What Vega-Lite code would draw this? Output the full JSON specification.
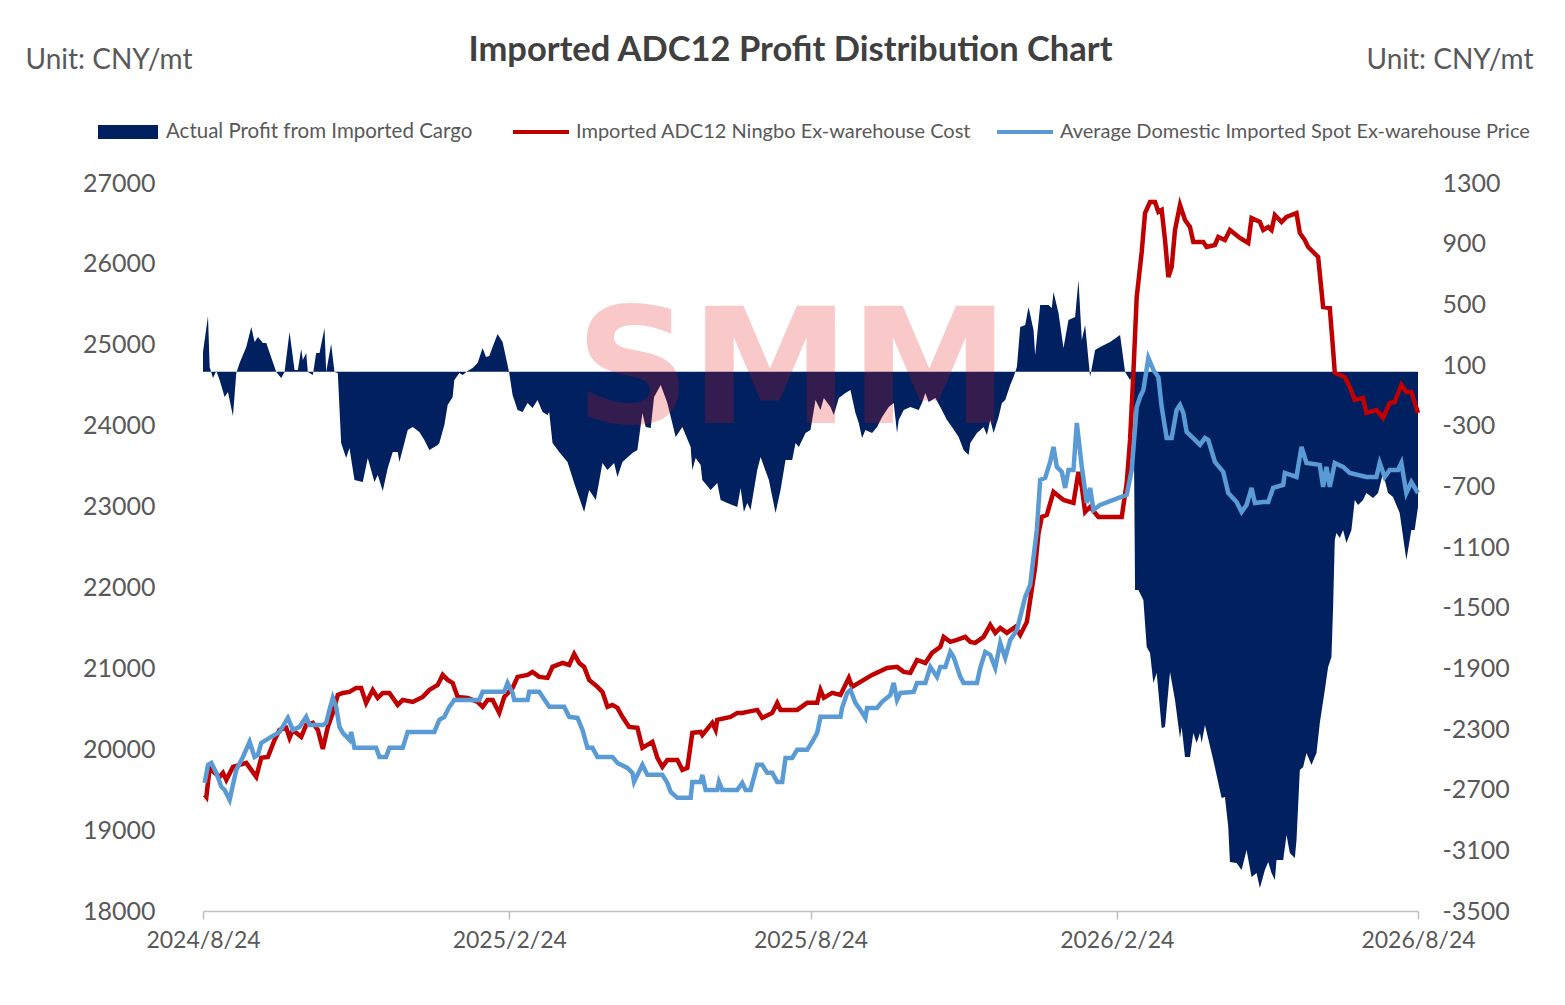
{
  "$schema": "https://vega.github.io/schema/vega-lite/v6.json",
  "description": "Imported ADC12 Profit Distribution Chart",
  "width": 1215,
  "height": 728,
  "autosize": "none",
  "padding": {"left": 203, "top": 183, "right": 147, "bottom": 94},
  "background": "white",
  "config": {"view": {"stroke": null}, "font": "Lato"},
  "title": {
    "text": "Imported ADC12 Profit Distribution Chart",
    "font": "Lato",
    "fontSize": 34.5,
    "fontWeight": "bold",
    "color": "#404040",
    "anchor": "middle",
    "frame": "group",
    "dx": -20,
    "dy": 42,
    "offset": 20
  },
  "datasets": {
    "profit": [
      {"date": "2024-08-24", "v": 186}, {"date": "2024-08-27", "v": 423}, {"date": "2024-08-28", "v": 87},
      {"date": "2024-08-30", "v": 14}, {"date": "2024-09-01", "v": 61}, {"date": "2024-09-03", "v": 1},
      {"date": "2024-09-06", "v": -111}, {"date": "2024-09-08", "v": -78}, {"date": "2024-09-11", "v": -236},
      {"date": "2024-09-13", "v": 47}, {"date": "2024-09-15", "v": 113}, {"date": "2024-09-19", "v": 219},
      {"date": "2024-09-22", "v": 351}, {"date": "2024-09-24", "v": 252}, {"date": "2024-09-26", "v": 285},
      {"date": "2024-09-29", "v": 245}, {"date": "2024-10-01", "v": 245}, {"date": "2024-10-07", "v": 54},
      {"date": "2024-10-10", "v": 14}, {"date": "2024-10-12", "v": 54}, {"date": "2024-10-15", "v": 318},
      {"date": "2024-10-18", "v": 67}, {"date": "2024-10-20", "v": 67}, {"date": "2024-10-22", "v": 206},
      {"date": "2024-10-23", "v": 133}, {"date": "2024-10-25", "v": 179}, {"date": "2024-10-26", "v": 54},
      {"date": "2024-10-29", "v": 34}, {"date": "2024-10-31", "v": 179}, {"date": "2024-11-02", "v": 179},
      {"date": "2024-11-05", "v": 344}, {"date": "2024-11-06", "v": 54}, {"date": "2024-11-09", "v": 239},
      {"date": "2024-11-11", "v": 54}, {"date": "2024-11-13", "v": 47}, {"date": "2024-11-15", "v": -414},
      {"date": "2024-11-18", "v": -513}, {"date": "2024-11-20", "v": -447}, {"date": "2024-11-23", "v": -658},
      {"date": "2024-11-28", "v": -671}, {"date": "2024-12-01", "v": -513}, {"date": "2024-12-05", "v": -671},
      {"date": "2024-12-07", "v": -625}, {"date": "2024-12-10", "v": -731}, {"date": "2024-12-13", "v": -579},
      {"date": "2024-12-16", "v": -473}, {"date": "2024-12-19", "v": -473}, {"date": "2024-12-20", "v": -539},
      {"date": "2024-12-25", "v": -328}, {"date": "2024-12-28", "v": -309}, {"date": "2025-01-01", "v": -342},
      {"date": "2025-01-04", "v": -394}, {"date": "2025-01-07", "v": -460}, {"date": "2025-01-12", "v": -427},
      {"date": "2025-01-13", "v": -414}, {"date": "2025-01-16", "v": -296}, {"date": "2025-01-18", "v": -164},
      {"date": "2025-01-21", "v": -111}, {"date": "2025-01-22", "v": 1}, {"date": "2025-01-25", "v": 47},
      {"date": "2025-01-27", "v": 34}, {"date": "2025-01-30", "v": 61}, {"date": "2025-02-02", "v": 80},
      {"date": "2025-02-05", "v": 113}, {"date": "2025-02-08", "v": 212}, {"date": "2025-02-10", "v": 153},
      {"date": "2025-02-12", "v": 159}, {"date": "2025-02-14", "v": 219}, {"date": "2025-02-17", "v": 305},
      {"date": "2025-02-20", "v": 252}, {"date": "2025-02-23", "v": 100}, {"date": "2025-02-24", "v": 47},
      {"date": "2025-02-26", "v": -98}, {"date": "2025-03-01", "v": -197}, {"date": "2025-03-04", "v": -210},
      {"date": "2025-03-07", "v": -150}, {"date": "2025-03-10", "v": -183}, {"date": "2025-03-13", "v": -131},
      {"date": "2025-03-16", "v": -210}, {"date": "2025-03-19", "v": -230}, {"date": "2025-03-20", "v": -210},
      {"date": "2025-03-22", "v": -414}, {"date": "2025-03-26", "v": -473}, {"date": "2025-03-31", "v": -539},
      {"date": "2025-04-04", "v": -678}, {"date": "2025-04-10", "v": -869}, {"date": "2025-04-13", "v": -724},
      {"date": "2025-04-17", "v": -790}, {"date": "2025-04-21", "v": -546}, {"date": "2025-04-24", "v": -592},
      {"date": "2025-04-28", "v": -546}, {"date": "2025-04-30", "v": -638}, {"date": "2025-05-03", "v": -539},
      {"date": "2025-05-09", "v": -480}, {"date": "2025-05-12", "v": -460}, {"date": "2025-05-15", "v": -216},
      {"date": "2025-05-17", "v": -309}, {"date": "2025-05-20", "v": -315}, {"date": "2025-05-22", "v": -111},
      {"date": "2025-05-26", "v": -32}, {"date": "2025-05-30", "v": -150}, {"date": "2025-06-04", "v": -375},
      {"date": "2025-06-08", "v": -309}, {"date": "2025-06-13", "v": -441}, {"date": "2025-06-14", "v": -592},
      {"date": "2025-06-16", "v": -513}, {"date": "2025-06-19", "v": -559}, {"date": "2025-06-20", "v": -658},
      {"date": "2025-06-25", "v": -724}, {"date": "2025-06-29", "v": -678}, {"date": "2025-07-01", "v": -790},
      {"date": "2025-07-05", "v": -810}, {"date": "2025-07-11", "v": -836}, {"date": "2025-07-13", "v": -711},
      {"date": "2025-07-15", "v": -869}, {"date": "2025-07-17", "v": -810}, {"date": "2025-07-19", "v": -856},
      {"date": "2025-07-23", "v": -592}, {"date": "2025-07-25", "v": -506}, {"date": "2025-07-30", "v": -658},
      {"date": "2025-08-03", "v": -876}, {"date": "2025-08-06", "v": -724}, {"date": "2025-08-09", "v": -526},
      {"date": "2025-08-13", "v": -526}, {"date": "2025-08-15", "v": -414}, {"date": "2025-08-17", "v": -441},
      {"date": "2025-08-21", "v": -348}, {"date": "2025-08-24", "v": -328}, {"date": "2025-08-27", "v": -131},
      {"date": "2025-08-30", "v": -197}, {"date": "2025-09-01", "v": -117}, {"date": "2025-09-05", "v": -177},
      {"date": "2025-09-07", "v": -230}, {"date": "2025-09-10", "v": -117}, {"date": "2025-09-14", "v": -85},
      {"date": "2025-09-17", "v": -65}, {"date": "2025-09-20", "v": -216}, {"date": "2025-09-22", "v": -282},
      {"date": "2025-09-24", "v": -381}, {"date": "2025-09-26", "v": -328}, {"date": "2025-09-30", "v": -348},
      {"date": "2025-10-03", "v": -309}, {"date": "2025-10-06", "v": -243}, {"date": "2025-10-10", "v": -177},
      {"date": "2025-10-13", "v": -150}, {"date": "2025-10-15", "v": -348}, {"date": "2025-10-16", "v": -263},
      {"date": "2025-10-19", "v": -197}, {"date": "2025-10-23", "v": -177}, {"date": "2025-10-28", "v": -197},
      {"date": "2025-10-30", "v": -150}, {"date": "2025-11-01", "v": -85}, {"date": "2025-11-03", "v": -144},
      {"date": "2025-11-07", "v": -117}, {"date": "2025-11-10", "v": -177}, {"date": "2025-11-14", "v": -263},
      {"date": "2025-11-17", "v": -309}, {"date": "2025-11-21", "v": -375}, {"date": "2025-11-24", "v": -460},
      {"date": "2025-11-27", "v": -493}, {"date": "2025-11-28", "v": -414}, {"date": "2025-12-02", "v": -348},
      {"date": "2025-12-06", "v": -309}, {"date": "2025-12-08", "v": -361}, {"date": "2025-12-10", "v": -263},
      {"date": "2025-12-12", "v": -348}, {"date": "2025-12-15", "v": -243}, {"date": "2025-12-17", "v": -150},
      {"date": "2025-12-19", "v": -131}, {"date": "2025-12-22", "v": -32}, {"date": "2025-12-24", "v": 21},
      {"date": "2025-12-26", "v": 87}, {"date": "2025-12-28", "v": 351}, {"date": "2025-12-31", "v": 364},
      {"date": "2026-01-02", "v": 483}, {"date": "2026-01-05", "v": 331}, {"date": "2026-01-06", "v": 166},
      {"date": "2026-01-09", "v": 496}, {"date": "2026-01-14", "v": 496}, {"date": "2026-01-16", "v": 476},
      {"date": "2026-01-17", "v": 581}, {"date": "2026-01-20", "v": 443}, {"date": "2026-01-23", "v": 212},
      {"date": "2026-01-26", "v": 397}, {"date": "2026-01-30", "v": 417}, {"date": "2026-02-01", "v": 661},
      {"date": "2026-02-03", "v": 265}, {"date": "2026-02-05", "v": 364}, {"date": "2026-02-08", "v": 21},
      {"date": "2026-02-11", "v": 199}, {"date": "2026-02-14", "v": 219}, {"date": "2026-02-20", "v": 252},
      {"date": "2026-02-26", "v": 298}, {"date": "2026-03-01", "v": 54}, {"date": "2026-03-04", "v": 1},
      {"date": "2026-03-06", "v": 47}, {"date": "2026-03-07", "v": -1383}, {"date": "2026-03-09", "v": -1383},
      {"date": "2026-03-12", "v": -1449}, {"date": "2026-03-14", "v": -1759}, {"date": "2026-03-16", "v": -1799},
      {"date": "2026-03-18", "v": -1997}, {"date": "2026-03-20", "v": -1931}, {"date": "2026-03-23", "v": -2293},
      {"date": "2026-03-25", "v": -2287}, {"date": "2026-03-28", "v": -1924}, {"date": "2026-03-31", "v": -2109},
      {"date": "2026-04-03", "v": -2359}, {"date": "2026-04-04", "v": -2287}, {"date": "2026-04-06", "v": -2484},
      {"date": "2026-04-09", "v": -2484}, {"date": "2026-04-11", "v": -2326}, {"date": "2026-04-13", "v": -2392},
      {"date": "2026-04-15", "v": -2326}, {"date": "2026-04-16", "v": -2392}, {"date": "2026-04-18", "v": -2273},
      {"date": "2026-04-23", "v": -2504}, {"date": "2026-04-28", "v": -2755}, {"date": "2026-04-30", "v": -2748},
      {"date": "2026-05-02", "v": -2946}, {"date": "2026-05-03", "v": -3177}, {"date": "2026-05-07", "v": -3183},
      {"date": "2026-05-10", "v": -3229}, {"date": "2026-05-13", "v": -3097}, {"date": "2026-05-16", "v": -3275},
      {"date": "2026-05-19", "v": -3249}, {"date": "2026-05-21", "v": -3348}, {"date": "2026-05-24", "v": -3229},
      {"date": "2026-05-26", "v": -3177}, {"date": "2026-05-28", "v": -3249}, {"date": "2026-05-30", "v": -3295},
      {"date": "2026-05-31", "v": -3163}, {"date": "2026-06-04", "v": -3163}, {"date": "2026-06-06", "v": -2999},
      {"date": "2026-06-08", "v": -3117}, {"date": "2026-06-11", "v": -3150}, {"date": "2026-06-12", "v": -3032},
      {"date": "2026-06-14", "v": -2570}, {"date": "2026-06-16", "v": -2550}, {"date": "2026-06-18", "v": -2458},
      {"date": "2026-06-21", "v": -2537}, {"date": "2026-06-24", "v": -2458}, {"date": "2026-06-26", "v": -2260},
      {"date": "2026-06-29", "v": -2043}, {"date": "2026-07-01", "v": -1891}, {"date": "2026-07-03", "v": -1825},
      {"date": "2026-07-04", "v": -1495}, {"date": "2026-07-05", "v": -1054}, {"date": "2026-07-06", "v": -1008},
      {"date": "2026-07-08", "v": -1041}, {"date": "2026-07-10", "v": -988}, {"date": "2026-07-12", "v": -1073},
      {"date": "2026-07-15", "v": -988}, {"date": "2026-07-17", "v": -790}, {"date": "2026-07-19", "v": -823},
      {"date": "2026-07-22", "v": -790}, {"date": "2026-07-24", "v": -744}, {"date": "2026-07-28", "v": -777},
      {"date": "2026-07-31", "v": -744}, {"date": "2026-08-03", "v": -612}, {"date": "2026-08-06", "v": -744},
      {"date": "2026-08-09", "v": -770}, {"date": "2026-08-13", "v": -876}, {"date": "2026-08-17", "v": -1186},
      {"date": "2026-08-20", "v": -988}, {"date": "2026-08-22", "v": -988}, {"date": "2026-08-24", "v": -836}
    ],
    "cost": [
      {"date": "2024-08-25", "v": 19436}, {"date": "2024-08-26", "v": 19411}, {"date": "2024-08-28", "v": 19769},
      {"date": "2024-08-31", "v": 19708}, {"date": "2024-09-03", "v": 19658}, {"date": "2024-09-05", "v": 19708},
      {"date": "2024-09-07", "v": 19621}, {"date": "2024-09-11", "v": 19782}, {"date": "2024-09-15", "v": 19806},
      {"date": "2024-09-19", "v": 19831}, {"date": "2024-09-22", "v": 19745}, {"date": "2024-09-25", "v": 19658},
      {"date": "2024-09-28", "v": 19893}, {"date": "2024-10-02", "v": 19905}, {"date": "2024-10-06", "v": 20115},
      {"date": "2024-10-09", "v": 20239}, {"date": "2024-10-13", "v": 20264}, {"date": "2024-10-15", "v": 20140},
      {"date": "2024-10-17", "v": 20239}, {"date": "2024-10-19", "v": 20202}, {"date": "2024-10-22", "v": 20153},
      {"date": "2024-10-25", "v": 20301}, {"date": "2024-10-29", "v": 20326}, {"date": "2024-11-01", "v": 20239},
      {"date": "2024-11-04", "v": 20004}, {"date": "2024-11-07", "v": 20276}, {"date": "2024-11-10", "v": 20449},
      {"date": "2024-11-13", "v": 20672}, {"date": "2024-11-16", "v": 20696}, {"date": "2024-11-20", "v": 20709},
      {"date": "2024-11-24", "v": 20758}, {"date": "2024-11-27", "v": 20758}, {"date": "2024-11-30", "v": 20573},
      {"date": "2024-12-04", "v": 20733}, {"date": "2024-12-07", "v": 20635}, {"date": "2024-12-10", "v": 20696},
      {"date": "2024-12-14", "v": 20696}, {"date": "2024-12-19", "v": 20548}, {"date": "2024-12-22", "v": 20610},
      {"date": "2024-12-28", "v": 20585}, {"date": "2025-01-03", "v": 20647}, {"date": "2025-01-07", "v": 20733},
      {"date": "2025-01-12", "v": 20795}, {"date": "2025-01-15", "v": 20919}, {"date": "2025-01-18", "v": 20857},
      {"date": "2025-01-21", "v": 20820}, {"date": "2025-01-24", "v": 20647}, {"date": "2025-01-30", "v": 20635},
      {"date": "2025-02-05", "v": 20585}, {"date": "2025-02-08", "v": 20524}, {"date": "2025-02-11", "v": 20610},
      {"date": "2025-02-14", "v": 20610}, {"date": "2025-02-18", "v": 20449}, {"date": "2025-02-21", "v": 20647},
      {"date": "2025-02-26", "v": 20758}, {"date": "2025-03-01", "v": 20894}, {"date": "2025-03-07", "v": 20919},
      {"date": "2025-03-10", "v": 20956}, {"date": "2025-03-14", "v": 20894}, {"date": "2025-03-19", "v": 20882},
      {"date": "2025-03-22", "v": 21018}, {"date": "2025-03-28", "v": 21067}, {"date": "2025-04-01", "v": 21042},
      {"date": "2025-04-04", "v": 21178}, {"date": "2025-04-07", "v": 21067}, {"date": "2025-04-10", "v": 21018},
      {"date": "2025-04-13", "v": 20857}, {"date": "2025-04-18", "v": 20771}, {"date": "2025-04-21", "v": 20709},
      {"date": "2025-04-24", "v": 20524}, {"date": "2025-04-27", "v": 20548}, {"date": "2025-04-30", "v": 20511},
      {"date": "2025-05-03", "v": 20400}, {"date": "2025-05-07", "v": 20276}, {"date": "2025-05-12", "v": 20264},
      {"date": "2025-05-15", "v": 20017}, {"date": "2025-05-21", "v": 20091}, {"date": "2025-05-24", "v": 19893},
      {"date": "2025-05-27", "v": 19782}, {"date": "2025-05-30", "v": 19868}, {"date": "2025-06-05", "v": 19868},
      {"date": "2025-06-08", "v": 19745}, {"date": "2025-06-11", "v": 19769}, {"date": "2025-06-14", "v": 20202},
      {"date": "2025-06-19", "v": 20214}, {"date": "2025-06-20", "v": 20177}, {"date": "2025-06-26", "v": 20326},
      {"date": "2025-06-28", "v": 20239}, {"date": "2025-06-29", "v": 20363}, {"date": "2025-07-07", "v": 20400},
      {"date": "2025-07-11", "v": 20449}, {"date": "2025-07-14", "v": 20449}, {"date": "2025-07-17", "v": 20462},
      {"date": "2025-07-23", "v": 20486}, {"date": "2025-07-26", "v": 20387}, {"date": "2025-08-01", "v": 20449},
      {"date": "2025-08-04", "v": 20573}, {"date": "2025-08-06", "v": 20486}, {"date": "2025-08-16", "v": 20486},
      {"date": "2025-08-22", "v": 20573}, {"date": "2025-08-28", "v": 20573}, {"date": "2025-08-30", "v": 20733},
      {"date": "2025-09-01", "v": 20635}, {"date": "2025-09-06", "v": 20696}, {"date": "2025-09-11", "v": 20672},
      {"date": "2025-09-16", "v": 20882}, {"date": "2025-09-18", "v": 20771}, {"date": "2025-09-25", "v": 20857},
      {"date": "2025-09-30", "v": 20919}, {"date": "2025-10-09", "v": 21005}, {"date": "2025-10-15", "v": 21018},
      {"date": "2025-10-19", "v": 20956}, {"date": "2025-10-23", "v": 20944}, {"date": "2025-10-27", "v": 21104},
      {"date": "2025-11-01", "v": 21067}, {"date": "2025-11-05", "v": 21191}, {"date": "2025-11-10", "v": 21265},
      {"date": "2025-11-12", "v": 21389}, {"date": "2025-11-16", "v": 21327}, {"date": "2025-11-20", "v": 21351},
      {"date": "2025-11-25", "v": 21389}, {"date": "2025-11-28", "v": 21327}, {"date": "2025-12-01", "v": 21314},
      {"date": "2025-12-06", "v": 21389}, {"date": "2025-12-10", "v": 21537}, {"date": "2025-12-13", "v": 21438},
      {"date": "2025-12-16", "v": 21500}, {"date": "2025-12-20", "v": 21438}, {"date": "2025-12-25", "v": 21512},
      {"date": "2025-12-28", "v": 21413}, {"date": "2026-01-01", "v": 21574}, {"date": "2026-01-03", "v": 21846},
      {"date": "2026-01-06", "v": 22254}, {"date": "2026-01-08", "v": 22674}, {"date": "2026-01-10", "v": 22872},
      {"date": "2026-01-13", "v": 22897}, {"date": "2026-01-17", "v": 23181}, {"date": "2026-01-23", "v": 23082},
      {"date": "2026-01-29", "v": 23045}, {"date": "2026-02-01", "v": 23428}, {"date": "2026-02-03", "v": 23243},
      {"date": "2026-02-05", "v": 22934}, {"date": "2026-02-08", "v": 22995}, {"date": "2026-02-13", "v": 22872},
      {"date": "2026-02-20", "v": 22872}, {"date": "2026-02-27", "v": 22872}, {"date": "2026-03-02", "v": 23292},
      {"date": "2026-03-04", "v": 23823}, {"date": "2026-03-06", "v": 24652}, {"date": "2026-03-08", "v": 25591},
      {"date": "2026-03-11", "v": 26147}, {"date": "2026-03-13", "v": 26629}, {"date": "2026-03-16", "v": 26765},
      {"date": "2026-03-19", "v": 26765}, {"date": "2026-03-21", "v": 26642}, {"date": "2026-03-23", "v": 26666},
      {"date": "2026-03-25", "v": 26295}, {"date": "2026-03-27", "v": 25838}, {"date": "2026-03-29", "v": 25962},
      {"date": "2026-03-31", "v": 26419}, {"date": "2026-04-03", "v": 26728}, {"date": "2026-04-06", "v": 26543},
      {"date": "2026-04-09", "v": 26456}, {"date": "2026-04-11", "v": 26271}, {"date": "2026-04-17", "v": 26271},
      {"date": "2026-04-19", "v": 26209}, {"date": "2026-04-24", "v": 26234}, {"date": "2026-04-26", "v": 26333},
      {"date": "2026-04-30", "v": 26295}, {"date": "2026-05-03", "v": 26419}, {"date": "2026-05-09", "v": 26320},
      {"date": "2026-05-14", "v": 26258}, {"date": "2026-05-16", "v": 26567}, {"date": "2026-05-21", "v": 26518},
      {"date": "2026-05-23", "v": 26419}, {"date": "2026-05-26", "v": 26456}, {"date": "2026-05-28", "v": 26419},
      {"date": "2026-05-30", "v": 26604}, {"date": "2026-06-03", "v": 26518}, {"date": "2026-06-06", "v": 26580},
      {"date": "2026-06-12", "v": 26629}, {"date": "2026-06-14", "v": 26382}, {"date": "2026-06-17", "v": 26295},
      {"date": "2026-06-19", "v": 26209}, {"date": "2026-06-22", "v": 26147}, {"date": "2026-06-25", "v": 26085},
      {"date": "2026-06-28", "v": 25467}, {"date": "2026-07-02", "v": 25455}, {"date": "2026-07-04", "v": 24936},
      {"date": "2026-07-05", "v": 24652}, {"date": "2026-07-11", "v": 24602}, {"date": "2026-07-14", "v": 24479},
      {"date": "2026-07-17", "v": 24318}, {"date": "2026-07-22", "v": 24343}, {"date": "2026-07-24", "v": 24157},
      {"date": "2026-07-30", "v": 24194}, {"date": "2026-08-03", "v": 24095}, {"date": "2026-08-07", "v": 24281},
      {"date": "2026-08-10", "v": 24293}, {"date": "2026-08-14", "v": 24503}, {"date": "2026-08-17", "v": 24417},
      {"date": "2026-08-20", "v": 24417}, {"date": "2026-08-24", "v": 24157}
    ],
    "price": [
      {"date": "2024-08-25", "v": 19584}, {"date": "2024-08-27", "v": 19807}, {"date": "2024-08-29", "v": 19831},
      {"date": "2024-09-01", "v": 19708}, {"date": "2024-09-04", "v": 19535}, {"date": "2024-09-06", "v": 19497},
      {"date": "2024-09-09", "v": 19374}, {"date": "2024-09-13", "v": 19745}, {"date": "2024-09-17", "v": 19905},
      {"date": "2024-09-21", "v": 20091}, {"date": "2024-09-24", "v": 19905}, {"date": "2024-09-26", "v": 19930},
      {"date": "2024-09-28", "v": 20078}, {"date": "2024-10-03", "v": 20140}, {"date": "2024-10-09", "v": 20214},
      {"date": "2024-10-14", "v": 20387}, {"date": "2024-10-17", "v": 20239}, {"date": "2024-10-21", "v": 20276},
      {"date": "2024-10-25", "v": 20400}, {"date": "2024-10-27", "v": 20301}, {"date": "2024-11-04", "v": 20301},
      {"date": "2024-11-06", "v": 20326}, {"date": "2024-11-08", "v": 20486}, {"date": "2024-11-10", "v": 20635},
      {"date": "2024-11-12", "v": 20524}, {"date": "2024-11-14", "v": 20276}, {"date": "2024-11-16", "v": 20202},
      {"date": "2024-11-20", "v": 20115}, {"date": "2024-11-21", "v": 20214}, {"date": "2024-11-23", "v": 20017},
      {"date": "2024-12-06", "v": 20017}, {"date": "2024-12-08", "v": 19905}, {"date": "2024-12-12", "v": 19905},
      {"date": "2024-12-14", "v": 20017}, {"date": "2024-12-22", "v": 20017}, {"date": "2024-12-25", "v": 20214},
      {"date": "2025-01-10", "v": 20214}, {"date": "2025-01-13", "v": 20363}, {"date": "2025-01-16", "v": 20400},
      {"date": "2025-01-19", "v": 20524}, {"date": "2025-01-22", "v": 20610}, {"date": "2025-02-06", "v": 20610},
      {"date": "2025-02-08", "v": 20709}, {"date": "2025-02-21", "v": 20709}, {"date": "2025-02-23", "v": 20820},
      {"date": "2025-02-26", "v": 20696}, {"date": "2025-02-27", "v": 20610}, {"date": "2025-03-07", "v": 20610},
      {"date": "2025-03-08", "v": 20709}, {"date": "2025-03-14", "v": 20709}, {"date": "2025-03-20", "v": 20524},
      {"date": "2025-03-29", "v": 20524}, {"date": "2025-04-01", "v": 20400}, {"date": "2025-04-06", "v": 20387},
      {"date": "2025-04-09", "v": 20239}, {"date": "2025-04-12", "v": 20017}, {"date": "2025-04-15", "v": 20017},
      {"date": "2025-04-18", "v": 19905}, {"date": "2025-04-27", "v": 19905}, {"date": "2025-04-30", "v": 19831},
      {"date": "2025-05-06", "v": 19769}, {"date": "2025-05-09", "v": 19708}, {"date": "2025-05-10", "v": 19596},
      {"date": "2025-05-15", "v": 19807}, {"date": "2025-05-18", "v": 19683}, {"date": "2025-05-27", "v": 19683},
      {"date": "2025-05-30", "v": 19584}, {"date": "2025-06-01", "v": 19473}, {"date": "2025-06-05", "v": 19399},
      {"date": "2025-06-13", "v": 19399}, {"date": "2025-06-14", "v": 19596}, {"date": "2025-06-19", "v": 19596},
      {"date": "2025-06-20", "v": 19683}, {"date": "2025-06-22", "v": 19497}, {"date": "2025-06-29", "v": 19497},
      {"date": "2025-06-30", "v": 19596}, {"date": "2025-07-02", "v": 19497}, {"date": "2025-07-11", "v": 19497},
      {"date": "2025-07-14", "v": 19584}, {"date": "2025-07-16", "v": 19497}, {"date": "2025-07-19", "v": 19497},
      {"date": "2025-07-23", "v": 19807}, {"date": "2025-07-26", "v": 19807}, {"date": "2025-07-29", "v": 19708},
      {"date": "2025-08-01", "v": 19708}, {"date": "2025-08-04", "v": 19596}, {"date": "2025-08-07", "v": 19596},
      {"date": "2025-08-09", "v": 19893}, {"date": "2025-08-13", "v": 19893}, {"date": "2025-08-16", "v": 19992},
      {"date": "2025-08-22", "v": 19992}, {"date": "2025-08-25", "v": 20091}, {"date": "2025-08-28", "v": 20202},
      {"date": "2025-08-30", "v": 20400}, {"date": "2025-09-11", "v": 20400}, {"date": "2025-09-12", "v": 20511},
      {"date": "2025-09-15", "v": 20696}, {"date": "2025-09-17", "v": 20733}, {"date": "2025-09-20", "v": 20573},
      {"date": "2025-09-23", "v": 20486}, {"date": "2025-09-26", "v": 20387}, {"date": "2025-09-27", "v": 20511},
      {"date": "2025-10-03", "v": 20511}, {"date": "2025-10-06", "v": 20585}, {"date": "2025-10-11", "v": 20672},
      {"date": "2025-10-13", "v": 20820}, {"date": "2025-10-15", "v": 20610}, {"date": "2025-10-17", "v": 20696},
      {"date": "2025-10-25", "v": 20709}, {"date": "2025-10-27", "v": 20820}, {"date": "2025-11-01", "v": 20820},
      {"date": "2025-11-04", "v": 21018}, {"date": "2025-11-08", "v": 20894}, {"date": "2025-11-10", "v": 21018},
      {"date": "2025-11-13", "v": 21018}, {"date": "2025-11-16", "v": 21203}, {"date": "2025-11-18", "v": 21141},
      {"date": "2025-11-22", "v": 20894}, {"date": "2025-11-24", "v": 20820}, {"date": "2025-12-02", "v": 20820},
      {"date": "2025-12-04", "v": 21005}, {"date": "2025-12-07", "v": 21203}, {"date": "2025-12-10", "v": 21166},
      {"date": "2025-12-13", "v": 21005}, {"date": "2025-12-16", "v": 21314}, {"date": "2025-12-19", "v": 21129},
      {"date": "2025-12-22", "v": 21351}, {"date": "2025-12-26", "v": 21475}, {"date": "2025-12-28", "v": 21636},
      {"date": "2025-12-31", "v": 21883}, {"date": "2026-01-03", "v": 22031}, {"date": "2026-01-05", "v": 22377},
      {"date": "2026-01-07", "v": 22711}, {"date": "2026-01-09", "v": 23329}, {"date": "2026-01-12", "v": 23354},
      {"date": "2026-01-15", "v": 23552}, {"date": "2026-01-17", "v": 23737}, {"date": "2026-01-19", "v": 23490},
      {"date": "2026-01-22", "v": 23428}, {"date": "2026-01-24", "v": 23230}, {"date": "2026-01-26", "v": 23453},
      {"date": "2026-01-29", "v": 23453}, {"date": "2026-01-31", "v": 24034}, {"date": "2026-02-03", "v": 23490},
      {"date": "2026-02-06", "v": 23045}, {"date": "2026-02-08", "v": 23230}, {"date": "2026-02-10", "v": 22958},
      {"date": "2026-02-14", "v": 23020}, {"date": "2026-02-22", "v": 23082}, {"date": "2026-03-02", "v": 23144},
      {"date": "2026-03-05", "v": 23453}, {"date": "2026-03-08", "v": 24231}, {"date": "2026-03-10", "v": 24355},
      {"date": "2026-03-12", "v": 24441}, {"date": "2026-03-15", "v": 24837}, {"date": "2026-03-18", "v": 24689},
      {"date": "2026-03-21", "v": 24602}, {"date": "2026-03-23", "v": 24231}, {"date": "2026-03-26", "v": 23848},
      {"date": "2026-03-29", "v": 23848}, {"date": "2026-04-01", "v": 24194}, {"date": "2026-04-03", "v": 24256},
      {"date": "2026-04-05", "v": 24157}, {"date": "2026-04-07", "v": 23922}, {"date": "2026-04-12", "v": 23823},
      {"date": "2026-04-15", "v": 23762}, {"date": "2026-04-18", "v": 23848}, {"date": "2026-04-20", "v": 23823},
      {"date": "2026-04-24", "v": 23552}, {"date": "2026-04-29", "v": 23428}, {"date": "2026-05-02", "v": 23168},
      {"date": "2026-05-07", "v": 23057}, {"date": "2026-05-10", "v": 22934}, {"date": "2026-05-13", "v": 23020},
      {"date": "2026-05-16", "v": 23230}, {"date": "2026-05-18", "v": 23045}, {"date": "2026-05-23", "v": 23057},
      {"date": "2026-05-26", "v": 23057}, {"date": "2026-05-29", "v": 23230}, {"date": "2026-06-04", "v": 23267},
      {"date": "2026-06-05", "v": 23416}, {"date": "2026-06-12", "v": 23366}, {"date": "2026-06-15", "v": 23737},
      {"date": "2026-06-18", "v": 23539}, {"date": "2026-06-26", "v": 23515}, {"date": "2026-06-28", "v": 23243},
      {"date": "2026-06-30", "v": 23490}, {"date": "2026-07-02", "v": 23243}, {"date": "2026-07-05", "v": 23539},
      {"date": "2026-07-10", "v": 23490}, {"date": "2026-07-14", "v": 23416}, {"date": "2026-07-24", "v": 23366},
      {"date": "2026-07-30", "v": 23366}, {"date": "2026-08-01", "v": 23539}, {"date": "2026-08-04", "v": 23366},
      {"date": "2026-08-07", "v": 23453}, {"date": "2026-08-12", "v": 23453}, {"date": "2026-08-14", "v": 23539},
      {"date": "2026-08-17", "v": 23168}, {"date": "2026-08-20", "v": 23304}, {"date": "2026-08-24", "v": 23168}
    ]
  },
  "layer": [
    {
      "data": {"name": "profit"},
      "mark": {"type": "area", "interpolate": "linear", "opacity": 1},
      "encoding": {
        "x": {
          "field": "date",
          "type": "temporal",
          "scale": {
            "type": "utc",
            "domain": [
              {"year": 2024, "month": 8, "date": 24, "utc": true},
              {"year": 2026, "month": 8, "date": 24, "utc": true}
            ]
          },
          "axis": {
            "title": null,
            "grid": false,
            "values": [
              {"year": 2024, "month": 8, "date": 24, "utc": true},
              {"year": 2025, "month": 2, "date": 24, "utc": true},
              {"year": 2025, "month": 8, "date": 24, "utc": true},
              {"year": 2026, "month": 2, "date": 24, "utc": true},
              {"year": 2026, "month": 8, "date": 24, "utc": true}
            ],
            "format": "%Y/%-m/%d",
            "labelFont": "Lato",
            "labelFontSize": 23,
            "labelColor": "#595959",
            "labelPadding": 10,
            "labelOverlap": false,
            "labelFlush": false,
            "labelBound": false,
            "domainColor": "#bfbfbf",
            "domainWidth": 1.5,
            "tickColor": "#bfbfbf",
            "tickWidth": 1.5,
            "tickSize": 8
          }
        },
        "y": {
          "field": "v",
          "type": "quantitative",
          "stack": null,
          "scale": {"domain": [-3500, 1300], "nice": false, "zero": false},
          "axis": {
            "orient": "right",
            "values": [-3500, -3100, -2700, -2300, -1900, -1500, -1100, -700, -300, 100, 500, 900, 1300],
            "labelExpr": "'' + datum.value",
            "grid": false,
            "domain": false,
            "ticks": false,
            "labelFont": "Lato",
            "labelFontSize": 25,
            "labelColor": "#595959",
            "labelPadding": 24,
            "title": "Unit: CNY/mt",
            "titleFont": "Lato",
            "titleFontSize": 28,
            "titleFontWeight": "normal",
            "titleColor": "#595959",
            "titleAngle": 0,
            "titleAlign": "right",
            "titleBaseline": "alphabetic",
            "titleX": 115,
            "titleY": -115
          }
        },
        "y2": {"datum": 55},
        "fill": {
          "datum": "Actual Profit from Imported Cargo",
          "scale": {"domain": ["Actual Profit from Imported Cargo"], "range": ["#002060"]},
          "legend": {
            "orient": "none",
            "legendX": -105,
            "legendY": -81,
            "direction": "horizontal",
            "title": null,
            "padding": 0,
            "symbolSize": 3600,
            "symbolType": "M-1,-0.23L1,-0.23L1,0.23L-1,0.23Z",
            "symbolStrokeWidth": 0,
            "symbolOpacity": 1,
            "labelFont": "Lato",
            "labelFontSize": 20.5,
            "labelColor": "#595959",
            "labelOffset": 8,
            "labelLimit": 0
          }
        }
      }
    },
    {
      "layer": [
        {
          "data": {"values": [{"label": "SMM"}]},
          "mark": {"type": "text", "font": "DejaVu Sans", "fontSize": 160, "fontWeight": "bold", "color": "#e81010", "opacity": 0.22, "baseline": "alphabetic", "align": "center"},
          "encoding": {
            "x": {"datum": {"year": 2025, "month": 8, "date": 13, "utc": true}, "type": "temporal"},
            "y": {"datum": 24034, "type": "quantitative"},
            "text": {"field": "label", "type": "nominal"}
          }
        },
        {
          "data": {"name": "cost"},
          "mark": {"type": "line", "strokeWidth": 4.5, "interpolate": "linear"},
          "encoding": {
            "x": {"field": "date", "type": "temporal"},
            "y": {
              "field": "v",
              "type": "quantitative",
              "scale": {"domain": [18000, 27000], "nice": false, "zero": false},
              "axis": {
                "orient": "left",
                "values": [18000, 19000, 20000, 21000, 22000, 23000, 24000, 25000, 26000, 27000],
                "format": "d",
                "grid": false,
                "domain": false,
                "ticks": false,
                "labelFont": "Lato",
                "labelFontSize": 25,
                "labelColor": "#595959",
                "labelPadding": 48,
                "title": "Unit: CNY/mt",
                "titleFont": "Lato",
                "titleFontSize": 28,
                "titleFontWeight": "normal",
                "titleColor": "#595959",
                "titleAngle": 0,
                "titleAlign": "left",
                "titleBaseline": "alphabetic",
                "titleX": -178,
                "titleY": -115
              }
            },
            "stroke": {
              "datum": "Imported ADC12 Ningbo Ex-warehouse Cost",
              "scale": {
                "domain": ["Imported ADC12 Ningbo Ex-warehouse Cost", "Average Domestic Imported Spot Ex-warehouse Price"],
                "range": ["#c00000", "#5b9bd5"]
              },
              "legend": {
                "orient": "none",
                "legendX": 308,
                "legendY": -81,
                "direction": "horizontal",
                "title": null,
                "padding": 0,
                "symbolSize": 3136,
                "symbolType": "stroke",
                "symbolStrokeWidth": 4,
                "labelFont": "Lato",
                "labelFontSize": 20,
                "labelColor": "#595959",
                "labelOffset": 5,
                "labelLimit": 0,
                "columnPadding": 17
              }
            }
          }
        },
        {
          "data": {"name": "price"},
          "mark": {"type": "line", "strokeWidth": 4.5, "interpolate": "linear"},
          "encoding": {
            "x": {"field": "date", "type": "temporal"},
            "y": {"field": "v", "type": "quantitative"},
            "stroke": {"datum": "Average Domestic Imported Spot Ex-warehouse Price"}
          }
        }
      ]
    }
  ],
  "resolve": {"scale": {"y": "independent"}}
}
